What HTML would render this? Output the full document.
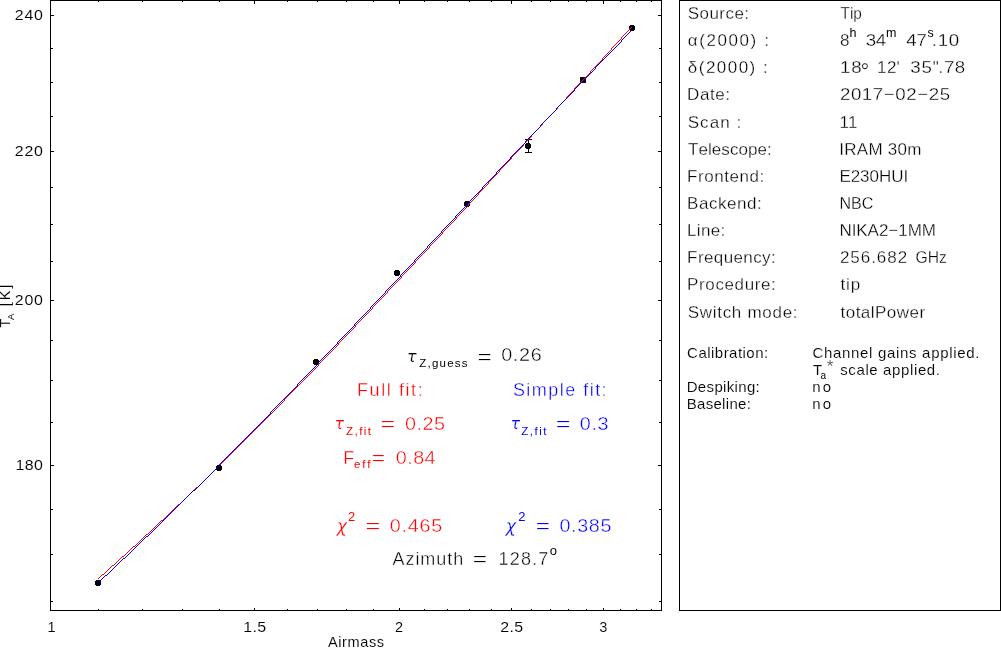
<!DOCTYPE html>
<html><head><meta charset="utf-8"><title>Tip</title>
<style>
html,body{margin:0;padding:0;background:#fff}
body{width:1001px;height:649px;overflow:hidden}
svg{display:block;font-family:"Liberation Sans",sans-serif}
text{white-space:pre;font-kerning:none;stroke:#fff}
</style></head><body>
<svg width="1001" height="649" viewBox="0 0 1001 649">
<rect width="1001" height="649" fill="#fff"/>
<g shape-rendering="crispEdges" stroke="#000" stroke-width="1" fill="none">
<rect x="50.5" y="0.5" width="611" height="610"/>
<rect x="679.5" y="0.5" width="321" height="610"/>
<path d="M51 601.5h2M661 601.5h-2 M51 554.5h2M661 554.5h-2 M51 509.5h2M661 509.5h-2 M51 465.5h3M661 465.5h-3 M51 422.5h2M661 422.5h-2 M51 380.5h2M661 380.5h-2 M51 340.5h2M661 340.5h-2 M51 300.5h3M661 300.5h-3 M51 261.5h2M661 261.5h-2 M51 224.5h2M661 224.5h-2 M51 187.5h2M661 187.5h-2 M51 151.5h3M661 151.5h-3 M51 116.5h2M661 116.5h-2 M51 82.5h2M661 82.5h-2 M51 48.5h2M661 48.5h-2 M51 15.5h3M661 15.5h-3 M98.5 610v-1M98.5 1v1 M142.5 610v-1M142.5 1v1 M182.5 610v-1M182.5 1v1 M219.5 610v-1M219.5 1v1 M254.5 610v-2M254.5 1v3 M287.5 610v-1M287.5 1v1 M317.5 610v-1M317.5 1v1 M346.5 610v-1M346.5 1v1 M373.5 610v-1M373.5 1v1 M399.5 610v-2M399.5 1v3 M424.5 610v-1M424.5 1v1 M447.5 610v-1M447.5 1v1 M469.5 610v-1M469.5 1v1 M491.5 610v-1M491.5 1v1 M511.5 610v-2M511.5 1v3 M531.5 610v-1M531.5 1v1 M550.5 610v-1M550.5 1v1 M568.5 610v-1M568.5 1v1 M586.5 610v-1M586.5 1v1 M603.5 610v-2M603.5 1v3 M620.5 610v-1M620.5 1v1 M636.5 610v-1M636.5 1v1 M651.5 610v-1M651.5 1v1"/>
</g>
<text transform="translate(14.8,19.5) scale(1.100,1)" font-size="14.5" stroke-width="0.09" letter-spacing="0.69">240</text>
<text transform="translate(14.8,155.5) scale(1.100,1)" font-size="14.5" stroke-width="0.09" letter-spacing="0.69">220</text>
<text transform="translate(14.8,304.5) scale(1.100,1)" font-size="14.5" stroke-width="0.09" letter-spacing="0.69">200</text>
<text transform="translate(15.6,469.5) scale(1.100,1)" font-size="14.5" stroke-width="0.09" letter-spacing="0.28">180</text>
<text x="47.5" y="631.5" font-size="14.5" stroke-width="0.09">1</text>
<text transform="translate(243.3,631.5) scale(1.100,1)" font-size="14.5" stroke-width="0.09" letter-spacing="0.32">1.5</text>
<text x="395.1" y="631.5" font-size="14.5" stroke-width="0.09">2</text>
<text transform="translate(500.2,631.5) scale(1.100,1)" font-size="14.5" stroke-width="0.09" letter-spacing="0.36">2.5</text>
<text x="599.2" y="631.5" font-size="14.5" stroke-width="0.09">3</text>
<text x="328.0" y="647.0" font-size="14.5" stroke-width="0.09" letter-spacing="0.61">Airmass</text>
<g transform="translate(9.6,327.5) rotate(-90)">
<text x="0" y="0" font-size="14.5" stroke-width="0.09">T<tspan dx="-1.4" dy="4.4" font-size="9.5" stroke-width="0">A</tspan><tspan dy="-4.4" font-size="14.5" dx="1.6" letter-spacing="1.9"> [K]</tspan></text>
</g>
<g>
<text x="687.7" y="18.9" font-size="17" stroke-width="0.29" letter-spacing="0.46">Source:</text>
<text transform="translate(840.5,18.9) scale(0.906,1)" font-size="17" stroke-width="0.29">Tip</text>
<text x="687.1" y="100.3" font-size="17" stroke-width="0.29" letter-spacing="0.58">Date:</text>
<text transform="translate(839.9,100.3) scale(1.100,1)" font-size="17" stroke-width="0.29" letter-spacing="0.53">2017−02−25</text>
<text x="687.7" y="127.5" font-size="17" stroke-width="0.29" letter-spacing="1.05">Scan :</text>
<text x="839.5" y="127.5" font-size="17" stroke-width="0.29" letter-spacing="-0.98">11</text>
<text x="688.1" y="154.7" font-size="17" stroke-width="0.29" letter-spacing="0.05">Telescope:</text>
<text x="839.2" y="154.7" font-size="17" stroke-width="0.29" letter-spacing="0.29">IRAM 30m</text>
<text x="687.1" y="181.8" font-size="17" stroke-width="0.29" letter-spacing="0.54">Frontend:</text>
<text x="839.4" y="181.8" font-size="17" stroke-width="0.29" letter-spacing="-0.04">E230HUI</text>
<text x="687.1" y="208.9" font-size="17" stroke-width="0.29" letter-spacing="0.55">Backend:</text>
<text transform="translate(839.5,208.9) scale(0.945,1)" font-size="17" stroke-width="0.29">NBC</text>
<text x="687.1" y="236.1" font-size="17" stroke-width="0.29" letter-spacing="0.30">Line:</text>
<text x="839.4" y="236.1" font-size="17" stroke-width="0.29" letter-spacing="-0.04">NIKA2−1MM</text>
<text x="687.1" y="263.2" font-size="17" stroke-width="0.29" letter-spacing="0.40">Frequency:</text>
<text x="839.9" y="263.2" font-size="17" stroke-width="0.29" letter-spacing="0.96">256.682</text>
<text x="687.1" y="290.4" font-size="17" stroke-width="0.29" letter-spacing="0.62">Procedure:</text>
<text x="840.5" y="290.4" font-size="17" stroke-width="0.29" letter-spacing="0.86">tip</text>
<text x="687.7" y="317.6" font-size="17" stroke-width="0.29" letter-spacing="0.71">Switch mode:</text>
<text x="840.5" y="317.6" font-size="17" stroke-width="0.29" letter-spacing="0.48">totalPower</text>
<text transform="translate(915.5,263.2) scale(0.923,1)" font-size="17" stroke-width="0.29">GHz</text>
<text x="687.8" y="46.0" font-size="17" stroke-width="0.29" letter-spacing="1.58">α(2000) :</text>
<text x="687.8" y="73.2" font-size="17" stroke-width="0.29" letter-spacing="1.48">δ(2000) :</text>
<text x="840.1" y="46.0" font-size="17" stroke-width="0.29">8</text>
<text x="849.4" y="36.5" font-size="12.5" stroke-width="0.00">h</text>
<text transform="translate(865.8,46.0) scale(1.100,1)" font-size="17" stroke-width="0.29" letter-spacing="-0.40">34</text>
<text x="885.9" y="36.5" font-size="12.5" stroke-width="0.00">m</text>
<text transform="translate(906.2,46.0) scale(1.100,1)" font-size="17" stroke-width="0.29" letter-spacing="-0.12">47</text>
<text x="927.6" y="36.5" font-size="12.5" stroke-width="0.00">s</text>
<text transform="translate(931.8,46.0) scale(1.100,1)" font-size="17" stroke-width="0.29" letter-spacing="0.66">.10</text>
<text transform="translate(840.1,73.2) scale(1.100,1)" font-size="17" stroke-width="0.29" letter-spacing="0.58">18</text>
<text x="860.6" y="78.8" font-size="22" stroke-width="0.30">°</text>
<text x="877.1" y="73.2" font-size="17" stroke-width="0.29" letter-spacing="0.34">12</text>
<text x="896.6" y="73.2" font-size="17" stroke-width="0.29">'</text>
<text transform="translate(910.3,73.2) scale(1.100,1)" font-size="17" stroke-width="0.29" letter-spacing="0.82">35</text>
<text x="932.8" y="73.2" font-size="17" stroke-width="0.29">"</text>
<text transform="translate(938.3,73.2) scale(1.100,1)" font-size="17" stroke-width="0.29" letter-spacing="0.42">.78</text>
<text x="687.1" y="357.9" font-size="15" stroke-width="0.13" letter-spacing="0.47">Calibration:</text>
<text x="812.4" y="357.9" font-size="15" stroke-width="0.13" letter-spacing="0.69">Channel gains applied.</text>
<text x="812.9" y="374.9" font-size="15" stroke-width="0.13">T</text>
<text x="820.6" y="378.9" font-size="10" stroke-width="0.00">a</text>
<text x="826.7" y="371.6" font-size="17" stroke-width="0.29">*</text>
<text x="840.2" y="374.9" font-size="15" stroke-width="0.13" letter-spacing="0.62">scale applied.</text>
<text x="686.7" y="391.9" font-size="15" stroke-width="0.13" letter-spacing="0.34">Despiking:</text>
<text x="812.2" y="391.9" font-size="15" stroke-width="0.13" letter-spacing="2.24">no</text>
<text x="686.7" y="408.9" font-size="15" stroke-width="0.13" letter-spacing="0.31">Baseline:</text>
<text x="812.2" y="408.9" font-size="15" stroke-width="0.13" letter-spacing="2.24">no</text>
</g>
<text x="407.0" y="362.0" font-size="16" stroke-width="0.21" font-family="DejaVu Sans, sans-serif" font-style="italic">τ</text>
<text x="419.3" y="367.0" font-size="11.5" stroke-width="0.00" letter-spacing="1.21">Z,guess</text>
<text transform="translate(477.5,362.7) scale(1.364,1)" font-size="18" stroke-width="0.38">=</text>
<text transform="translate(501.2,361.4) scale(1.100,1)" font-size="18" stroke-width="0.38" letter-spacing="0.61">0.26</text>
<text x="357.0" y="395.9" font-size="18" fill="#f00" stroke-width="0.38" letter-spacing="1.58">Full fit:</text>
<text x="512.9" y="395.9" font-size="18" fill="#00f" stroke-width="0.38" letter-spacing="1.47">Simple fit:</text>
<text x="334.4" y="429.3" font-size="16" fill="#f00" stroke-width="0.21" font-family="DejaVu Sans, sans-serif" font-style="italic">τ</text>
<text x="346.0" y="434.7" font-size="11.5" fill="#f00" stroke-width="0.00" letter-spacing="1.47">Z,fit</text>
<text transform="translate(380.5,429.9) scale(1.398,1)" font-size="18" fill="#f00" stroke-width="0.38">=</text>
<text transform="translate(404.9,429.9) scale(1.100,1)" font-size="18" fill="#f00" stroke-width="0.38" letter-spacing="0.48">0.25</text>
<text x="510.5" y="429.3" font-size="16" fill="#00f" stroke-width="0.21" font-family="DejaVu Sans, sans-serif" font-style="italic">τ</text>
<text x="521.3" y="434.7" font-size="11.5" fill="#00f" stroke-width="0.00" letter-spacing="1.52">Z,fit</text>
<text transform="translate(555.8,429.9) scale(1.398,1)" font-size="18" fill="#00f" stroke-width="0.38">=</text>
<text transform="translate(579.7,429.9) scale(1.100,1)" font-size="18" fill="#00f" stroke-width="0.38" letter-spacing="0.64">0.3</text>
<text x="343.3" y="463.8" font-size="18" fill="#f00" stroke-width="0.38">F</text>
<text x="354.0" y="468.3" font-size="11.5" fill="#f00" stroke-width="0.00" letter-spacing="1.84">eff</text>
<text transform="translate(371.8,463.8) scale(1.273,1)" font-size="18" fill="#f00" stroke-width="0.38">=</text>
<text transform="translate(395.8,463.8) scale(1.100,1)" font-size="18" fill="#f00" stroke-width="0.38" letter-spacing="0.40">0.84</text>
<text x="336.6" y="532.0" font-size="18" fill="#f00" stroke-width="0.38" font-family="DejaVu Sans, sans-serif" font-style="italic">χ</text>
<text x="348.1" y="520.7" font-size="13" fill="#f00" stroke-width="0.00">2</text>
<text transform="translate(365.6,532.0) scale(1.420,1)" font-size="18" fill="#f00" stroke-width="0.38">=</text>
<text transform="translate(389.7,532.0) scale(1.100,1)" font-size="18" fill="#f00" stroke-width="0.38" letter-spacing="0.69">0.465</text>
<text x="505.6" y="532.0" font-size="18" fill="#00f" stroke-width="0.38" font-family="DejaVu Sans, sans-serif" font-style="italic">χ</text>
<text x="518.3" y="520.7" font-size="13" fill="#00f" stroke-width="0.00">2</text>
<text transform="translate(535.8,532.0) scale(1.364,1)" font-size="18" fill="#00f" stroke-width="0.38">=</text>
<text transform="translate(559.5,532.0) scale(1.100,1)" font-size="18" fill="#00f" stroke-width="0.38" letter-spacing="0.56">0.385</text>
<text x="392.5" y="564.7" font-size="18" stroke-width="0.38" letter-spacing="0.95">Azimuth</text>
<text transform="translate(472.8,564.7) scale(1.364,1)" font-size="18" stroke-width="0.38">=</text>
<text x="498.6" y="564.7" font-size="18" stroke-width="0.38" letter-spacing="1.16">128.7</text>
<text x="549.8" y="554.9" font-size="13" stroke-width="0.00">o</text>
<path fill="#000" shape-rendering="crispEdges" d="M96 580h4v1h1v4h-1v1h-4v-1h-1v-4h1zM217 465h4v1h1v4h-1v1h-4v-1h-1v-4h1zM314 359h4v1h1v4h-1v1h-4v-1h-1v-4h1zM395 270h4v1h1v4h-1v1h-4v-1h-1v-4h1zM465 201h4v1h1v4h-1v1h-4v-1h-1v-4h1zM526 143h4v1h1v4h-1v1h-4v-1h-1v-4h1zM630 25h4v1h1v4h-1v1h-4v-1h-1v-4h1z"/>
<rect x="580" y="77" width="6" height="6" fill="#000" shape-rendering="crispEdges"/>
<path d="M528.5 139v14M525 139.5h7M525 152.5h7" stroke="#000" stroke-width="1" fill="none" shape-rendering="crispEdges"/>
<path fill="none" stroke="#f00" stroke-width="1" shape-rendering="crispEdges" d="M631 27.5h1M630 28.5h1M629 29.5h1M628 30.5h1M627 31.5h1M626 32.5h1M625 33.5h1M624 34.5h1M623 35.5h1M622 36.5h1M621 37.5h1M621 38.5h1M620 39.5h1M619 40.5h1M618 41.5h1M617 42.5h1M616 43.5h1M615 44.5h1M614 45.5h1M613 46.5h1M612 47.5h1M611 48.5h1M611 49.5h1M610 50.5h1M609 51.5h1M608 52.5h1M607 53.5h1M606 54.5h1M605 55.5h1M604 56.5h1M603 57.5h1M602 58.5h1M602 59.5h1M601 60.5h1M600 61.5h1M599 62.5h1M598 63.5h1M597 64.5h1M596 65.5h1M595 66.5h1M594 67.5h1M593 68.5h1M592 69.5h1M591 70.5h1M590 71.5h1M590 72.5h1M589 73.5h1M588 74.5h1M587 75.5h1M586 76.5h1M585 77.5h1M584 78.5h1M583 79.5h1M582 80.5h1M581 81.5h1M580 82.5h1M579 83.5h1M578 84.5h1M577 85.5h1M576 86.5h1M575 87.5h1M574 88.5h1M574 89.5h1M573 90.5h1M572 91.5h1M571 92.5h1M570 93.5h1M569 94.5h1M568 95.5h1M567 96.5h1M566 97.5h1M566 98.5h1M565 99.5h1M564 100.5h1M563 101.5h1M562 102.5h1M561 103.5h1M560 104.5h1M559 105.5h1M558 106.5h1M557 107.5h1M557 108.5h1M556 109.5h1M555 110.5h1M554 111.5h1M553 112.5h1M552 113.5h1M551 114.5h1M550 115.5h1M549 116.5h1M548 117.5h1M547 118.5h1M546 119.5h1M545 120.5h1M544 121.5h1M543 122.5h1M542 123.5h1M542 124.5h1M541 125.5h1M540 126.5h1M539 127.5h1M538 128.5h1M537 129.5h1M536 130.5h1M535 131.5h1M534 132.5h1M533 133.5h1M532 134.5h1M531 135.5h1M531 136.5h1M530 137.5h1M529 138.5h1M528 139.5h1M527 140.5h1M526 141.5h1M525 142.5h1M524 143.5h1M523 144.5h1M523 145.5h1M522 146.5h1M521 147.5h1M520 148.5h1M519 149.5h1M518 150.5h1M517 151.5h1M516 152.5h1M515 153.5h1M514 154.5h1M513 155.5h1M512 156.5h1M511 157.5h1M511 158.5h1M510 159.5h1M509 160.5h1M508 161.5h1M507 162.5h1M506 163.5h1M505 164.5h1M504 165.5h1M503 166.5h1M502 167.5h1M501 168.5h1M500 169.5h1M499 170.5h1M499 171.5h1M498 172.5h1M497 173.5h1M496 174.5h1M495 175.5h1M494 176.5h1M493 177.5h1M492 178.5h1M491 179.5h1M490 180.5h1M489 181.5h1M488 182.5h1M488 183.5h1M487 184.5h1M486 185.5h1M485 186.5h1M484 187.5h1M483 188.5h1M482 189.5h1M481 190.5h1M480 191.5h1M479 192.5h1M478 193.5h1M478 194.5h1M477 195.5h1M476 196.5h1M475 197.5h1M474 198.5h1M473 199.5h1M472 200.5h1M471 201.5h1M470 202.5h1M469 203.5h1M468 204.5h1M468 205.5h1M467 206.5h1M466 207.5h1M465 208.5h1M464 209.5h1M463 210.5h1M462 211.5h1M461 212.5h1M460 213.5h1M459 214.5h1M458 215.5h1M457 216.5h1M456 217.5h1M456 218.5h1M455 219.5h1M454 220.5h1M453 221.5h1M452 222.5h1M451 223.5h1M450 224.5h1M449 225.5h1M448 226.5h1M447 227.5h1M446 228.5h1M445 229.5h1M444 230.5h1M443 231.5h1M442 232.5h1M442 233.5h1M441 234.5h1M440 235.5h1M439 236.5h1M438 237.5h1M437 238.5h1M436 239.5h1M435 240.5h1M434 241.5h1M433 242.5h1M432 243.5h1M431 244.5h1M430 245.5h1M429 246.5h1M429 247.5h1M428 248.5h1M427 249.5h1M426 250.5h1M425 251.5h1M424 252.5h1M423 253.5h1M422 254.5h1M421 255.5h1M420 256.5h1M419 257.5h1M418 258.5h1M417 259.5h1M416 260.5h1M415 261.5h1M415 262.5h1M414 263.5h1M413 264.5h1M412 265.5h1M411 266.5h1M410 267.5h1M409 268.5h1M408 269.5h1M407 270.5h1M406 271.5h1M405 272.5h1M404 273.5h1M403 274.5h1M402 275.5h1M401 276.5h1M401 277.5h1M400 278.5h1M399 279.5h1M398 280.5h1M397 281.5h1M396 282.5h1M395 283.5h1M394 284.5h1M393 285.5h1M392 286.5h1M391 287.5h1M390 288.5h1M389 289.5h1M388 290.5h1M387 291.5h1M387 292.5h1M386 293.5h1M385 294.5h1M384 295.5h1M383 296.5h1M382 297.5h1M381 298.5h1M380 299.5h1M379 300.5h1M378 301.5h1M377 302.5h1M376 303.5h1M375 304.5h1M374 305.5h1M373 306.5h1M372 307.5h1M372 308.5h1M371 309.5h1M370 310.5h1M369 311.5h1M368 312.5h1M367 313.5h1M366 314.5h1M365 315.5h1M364 316.5h1M363 317.5h1M362 318.5h1M361 319.5h1M360 320.5h1M359 321.5h1M358 322.5h1M357 323.5h1M356 324.5h1M355 325.5h1M355 326.5h1M354 327.5h1M353 328.5h1M352 329.5h1M351 330.5h1M350 331.5h1M349 332.5h1M348 333.5h1M347 334.5h1M346 335.5h1M345 336.5h1M344 337.5h1M343 338.5h1M342 339.5h1M341 340.5h1M340 341.5h1M339 342.5h1M338 343.5h1M338 344.5h1M337 345.5h1M336 346.5h1M335 347.5h1M334 348.5h1M333 349.5h1M332 350.5h1M331 351.5h1M330 352.5h1M329 353.5h1M328 354.5h1M327 355.5h1M326 356.5h1M325 357.5h1M324 358.5h1M323 359.5h1M322 360.5h1M321 361.5h1M320 362.5h1M319 363.5h1M318 364.5h1M318 365.5h1M317 366.5h1M316 367.5h1M315 368.5h1M314 369.5h1M313 370.5h1M312 371.5h1M311 372.5h1M310 373.5h1M309 374.5h1M308 375.5h1M307 376.5h1M306 377.5h1M305 378.5h1M304 379.5h1M303 380.5h1M302 381.5h1M301 382.5h1M300 383.5h1M299 384.5h1M298 385.5h1M297 386.5h1M296 387.5h1M295 388.5h1M294 389.5h1M293 390.5h1M292 391.5h1M291 392.5h1M290 393.5h1M289 394.5h1M288 395.5h1M287 396.5h1M286 397.5h1M285 398.5h1M284 399.5h1M284 400.5h1M283 401.5h1M282 402.5h1M281 403.5h1M280 404.5h1M279 405.5h1M278 406.5h1M277 407.5h1M276 408.5h1M275 409.5h1M274 410.5h1M273 411.5h1M272 412.5h1M271 413.5h1M270 414.5h1M269 415.5h1M268 416.5h1M267 417.5h1M266 418.5h1M265 419.5h1M264 420.5h1M263 421.5h1M262 422.5h1M261 423.5h1M260 424.5h1M259 425.5h1M258 426.5h1M257 427.5h1M256 428.5h1M255 429.5h1M254 430.5h1M253 431.5h1M252 432.5h1M251 433.5h1M250 434.5h1M249 435.5h1M248 436.5h1M247 437.5h1M246 438.5h1M245 439.5h1M244 440.5h1M243 441.5h1M242 442.5h1M241 443.5h1M240 444.5h1M239 445.5h1M238 446.5h1M237 447.5h1M236 448.5h1M235 449.5h1M234 450.5h1M233 451.5h1M232 452.5h1M231 453.5h1M230 454.5h1M229 455.5h1M228 456.5h1M227 457.5h1M226 458.5h1M225 459.5h1M224 460.5h1M223 461.5h1M222 462.5h1M221 463.5h1M220 464.5h1M219 465.5h1M218 466.5h1M217 467.5h1M216 468.5h1M215 469.5h1M214 470.5h1M213 471.5h1M212 472.5h1M211 473.5h1M210 474.5h1M209 475.5h1M208 476.5h1M207 477.5h1M206 478.5h1M205 479.5h1M204 480.5h1M203 481.5h1M202 482.5h1M201 483.5h1M200 484.5h1M199 485.5h1M198 486.5h1M196 487.5h2M195 488.5h1M194 489.5h1M193 490.5h1M192 491.5h1M191 492.5h1M190 493.5h1M189 494.5h1M188 495.5h1M187 496.5h1M186 497.5h1M185 498.5h1M184 499.5h1M183 500.5h1M182 501.5h1M181 502.5h1M180 503.5h1M178 504.5h2M177 505.5h1M176 506.5h1M175 507.5h1M174 508.5h1M173 509.5h1M172 510.5h1M171 511.5h1M170 512.5h1M169 513.5h1M168 514.5h1M167 515.5h1M166 516.5h1M165 517.5h1M164 518.5h1M163 519.5h1M161 520.5h2M160 521.5h1M159 522.5h1M158 523.5h1M157 524.5h1M156 525.5h1M155 526.5h1M154 527.5h1M153 528.5h1M152 529.5h1M151 530.5h1M150 531.5h1M149 532.5h1M148 533.5h1M146 534.5h2M145 535.5h1M144 536.5h1M143 537.5h1M142 538.5h1M141 539.5h1M140 540.5h1M139 541.5h1M138 542.5h1M137 543.5h1M136 544.5h1M135 545.5h1M133 546.5h2M132 547.5h1M131 548.5h1M130 549.5h1M129 550.5h1M128 551.5h1M127 552.5h1M126 553.5h1M125 554.5h1M124 555.5h1M122 556.5h2M121 557.5h1M120 558.5h1M119 559.5h1M118 560.5h1M117 561.5h1M116 562.5h1M115 563.5h1M114 564.5h1M112 565.5h2M111 566.5h1M110 567.5h1M109 568.5h1M108 569.5h1M107 570.5h1M106 571.5h1M105 572.5h1M104 573.5h1M102 574.5h2M101 575.5h1M100 576.5h1M99 577.5h1M98 578.5h1"/>
<path fill="none" stroke="#00f" stroke-width="1" shape-rendering="crispEdges" d="M631 30.5h1M630 31.5h1M629 32.5h1M628 33.5h1M627 34.5h1M626 35.5h1M625 36.5h1M624 37.5h1M623 38.5h1M622 39.5h1M621 40.5h1M621 41.5h1M620 42.5h1M619 43.5h1M618 44.5h1M617 45.5h1M616 46.5h1M615 47.5h1M614 48.5h1M613 49.5h1M612 50.5h1M611 51.5h1M610 52.5h1M609 53.5h1M608 54.5h1M607 55.5h1M606 56.5h1M605 57.5h1M604 58.5h1M603 59.5h1M602 60.5h1M601 61.5h1M600 62.5h1M599 63.5h1M598 64.5h1M597 65.5h1M596 66.5h1M595 67.5h1M595 68.5h1M594 69.5h1M593 70.5h1M592 71.5h1M591 72.5h1M590 73.5h1M589 74.5h1M588 75.5h1M587 76.5h1M586 77.5h1M585 78.5h1M584 79.5h1M583 80.5h1M582 81.5h1M581 82.5h1M580 83.5h1M579 84.5h1M578 85.5h1M577 86.5h1M576 87.5h1M575 88.5h1M574 89.5h1M574 90.5h1M573 91.5h1M572 92.5h1M571 93.5h1M570 94.5h1M569 95.5h1M568 96.5h1M567 97.5h1M566 98.5h1M565 99.5h1M564 100.5h1M563 101.5h1M562 102.5h1M561 103.5h1M560 104.5h1M559 105.5h1M558 106.5h1M557 107.5h1M556 108.5h1M556 109.5h1M555 110.5h1M554 111.5h1M553 112.5h1M552 113.5h1M551 114.5h1M550 115.5h1M549 116.5h1M548 117.5h1M547 118.5h1M546 119.5h1M545 120.5h1M544 121.5h1M543 122.5h1M542 123.5h1M541 124.5h1M540 125.5h1M540 126.5h1M539 127.5h1M538 128.5h1M537 129.5h1M536 130.5h1M535 131.5h1M534 132.5h1M533 133.5h1M532 134.5h1M531 135.5h1M530 136.5h1M529 137.5h1M528 138.5h1M527 139.5h1M526 140.5h1M525 141.5h1M525 142.5h1M524 143.5h1M523 144.5h1M522 145.5h1M521 146.5h1M520 147.5h1M519 148.5h1M518 149.5h1M517 150.5h1M516 151.5h1M515 152.5h1M514 153.5h1M513 154.5h1M512 155.5h1M511 156.5h1M510 157.5h1M510 158.5h1M509 159.5h1M508 160.5h1M507 161.5h1M506 162.5h1M505 163.5h1M504 164.5h1M503 165.5h1M502 166.5h1M501 167.5h1M500 168.5h1M499 169.5h1M498 170.5h1M497 171.5h1M496 172.5h1M496 173.5h1M495 174.5h1M494 175.5h1M493 176.5h1M492 177.5h1M491 178.5h1M490 179.5h1M489 180.5h1M488 181.5h1M487 182.5h1M486 183.5h1M485 184.5h1M484 185.5h1M483 186.5h1M482 187.5h1M482 188.5h1M481 189.5h1M480 190.5h1M479 191.5h1M478 192.5h1M477 193.5h1M476 194.5h1M475 195.5h1M474 196.5h1M473 197.5h1M472 198.5h1M471 199.5h1M470 200.5h1M469 201.5h1M468 202.5h1M468 203.5h1M467 204.5h1M466 205.5h1M465 206.5h1M464 207.5h1M463 208.5h1M462 209.5h1M461 210.5h1M460 211.5h1M459 212.5h1M458 213.5h1M457 214.5h1M456 215.5h1M455 216.5h1M455 217.5h1M454 218.5h1M453 219.5h1M452 220.5h1M451 221.5h1M450 222.5h1M449 223.5h1M448 224.5h1M447 225.5h1M446 226.5h1M445 227.5h1M444 228.5h1M443 229.5h1M442 230.5h1M441 231.5h1M441 232.5h1M440 233.5h1M439 234.5h1M438 235.5h1M437 236.5h1M436 237.5h1M435 238.5h1M434 239.5h1M433 240.5h1M432 241.5h1M431 242.5h1M430 243.5h1M429 244.5h1M428 245.5h1M427 246.5h1M427 247.5h1M426 248.5h1M425 249.5h1M424 250.5h1M423 251.5h1M422 252.5h1M421 253.5h1M420 254.5h1M419 255.5h1M418 256.5h1M417 257.5h1M416 258.5h1M415 259.5h1M414 260.5h1M414 261.5h1M413 262.5h1M412 263.5h1M411 264.5h1M410 265.5h1M409 266.5h1M408 267.5h1M407 268.5h1M406 269.5h1M405 270.5h1M404 271.5h1M403 272.5h1M402 273.5h1M401 274.5h1M400 275.5h1M400 276.5h1M399 277.5h1M398 278.5h1M397 279.5h1M396 280.5h1M395 281.5h1M394 282.5h1M393 283.5h1M392 284.5h1M391 285.5h1M390 286.5h1M389 287.5h1M388 288.5h1M387 289.5h1M386 290.5h1M385 291.5h1M385 292.5h1M384 293.5h1M383 294.5h1M382 295.5h1M381 296.5h1M380 297.5h1M379 298.5h1M378 299.5h1M377 300.5h1M376 301.5h1M375 302.5h1M374 303.5h1M373 304.5h1M372 305.5h1M371 306.5h1M370 307.5h1M370 308.5h1M369 309.5h1M368 310.5h1M367 311.5h1M366 312.5h1M365 313.5h1M364 314.5h1M363 315.5h1M362 316.5h1M361 317.5h1M360 318.5h1M359 319.5h1M358 320.5h1M357 321.5h1M356 322.5h1M355 323.5h1M354 324.5h1M354 325.5h1M353 326.5h1M352 327.5h1M351 328.5h1M350 329.5h1M349 330.5h1M348 331.5h1M347 332.5h1M346 333.5h1M345 334.5h1M344 335.5h1M343 336.5h1M342 337.5h1M341 338.5h1M340 339.5h1M339 340.5h1M338 341.5h1M337 342.5h1M337 343.5h1M336 344.5h1M335 345.5h1M334 346.5h1M333 347.5h1M332 348.5h1M331 349.5h1M330 350.5h1M329 351.5h1M328 352.5h1M327 353.5h1M326 354.5h1M325 355.5h1M324 356.5h1M323 357.5h1M322 358.5h1M321 359.5h1M320 360.5h1M319 361.5h1M318 362.5h1M318 363.5h1M317 364.5h1M316 365.5h1M315 366.5h1M314 367.5h1M313 368.5h1M312 369.5h1M311 370.5h1M310 371.5h1M309 372.5h1M308 373.5h1M307 374.5h1M306 375.5h1M305 376.5h1M304 377.5h1M303 378.5h1M302 379.5h1M301 380.5h1M300 381.5h1M299 382.5h1M298 383.5h1M297 384.5h1M297 385.5h1M296 386.5h1M295 387.5h1M294 388.5h1M293 389.5h1M292 390.5h1M291 391.5h1M290 392.5h1M289 393.5h1M288 394.5h1M287 395.5h1M286 396.5h1M285 397.5h1M284 398.5h1M283 399.5h1M282 400.5h1M281 401.5h1M280 402.5h1M279 403.5h1M278 404.5h1M277 405.5h1M276 406.5h1M275 407.5h1M274 408.5h1M273 409.5h1M272 410.5h1M271 411.5h1M270 412.5h1M270 413.5h1M269 414.5h1M268 415.5h1M267 416.5h1M266 417.5h1M265 418.5h1M264 419.5h1M263 420.5h1M262 421.5h1M261 422.5h1M260 423.5h1M259 424.5h1M258 425.5h1M257 426.5h1M256 427.5h1M255 428.5h1M254 429.5h1M253 430.5h1M252 431.5h1M251 432.5h1M250 433.5h1M249 434.5h1M248 435.5h1M247 436.5h1M246 437.5h1M245 438.5h1M244 439.5h1M243 440.5h1M242 441.5h1M241 442.5h1M240 443.5h1M239 444.5h1M238 445.5h1M237 446.5h1M236 447.5h1M235 448.5h1M234 449.5h1M233 450.5h1M232 451.5h1M231 452.5h1M230 453.5h1M229 454.5h1M228 455.5h1M227 456.5h1M226 457.5h1M225 458.5h1M224 459.5h1M223 460.5h1M222 461.5h1M221 462.5h1M220 463.5h1M219 464.5h1M219 465.5h1M218 466.5h1M217 467.5h1M216 468.5h1M215 469.5h1M214 470.5h1M213 471.5h1M212 472.5h1M211 473.5h1M210 474.5h1M209 475.5h1M208 476.5h1M207 477.5h1M206 478.5h1M205 479.5h1M204 480.5h1M203 481.5h1M202 482.5h1M201 483.5h1M200 484.5h1M199 485.5h1M198 486.5h1M197 487.5h1M196 488.5h1M195 489.5h1M193 490.5h2M192 491.5h1M191 492.5h1M190 493.5h1M189 494.5h1M188 495.5h1M187 496.5h1M186 497.5h1M185 498.5h1M184 499.5h1M183 500.5h1M182 501.5h1M181 502.5h1M180 503.5h1M179 504.5h1M178 505.5h1M177 506.5h1M176 507.5h1M175 508.5h1M174 509.5h1M173 510.5h1M172 511.5h1M171 512.5h1M170 513.5h1M169 514.5h1M168 515.5h1M167 516.5h1M166 517.5h1M165 518.5h1M164 519.5h1M163 520.5h1M162 521.5h1M161 522.5h1M160 523.5h1M159 524.5h1M158 525.5h1M157 526.5h1M156 527.5h1M155 528.5h1M154 529.5h1M153 530.5h1M152 531.5h1M151 532.5h1M150 533.5h1M149 534.5h1M148 535.5h1M146 536.5h2M145 537.5h1M144 538.5h1M143 539.5h1M142 540.5h1M141 541.5h1M140 542.5h1M139 543.5h1M138 544.5h1M137 545.5h1M136 546.5h1M135 547.5h1M134 548.5h1M133 549.5h1M132 550.5h1M131 551.5h1M130 552.5h1M129 553.5h1M128 554.5h1M127 555.5h1M126 556.5h1M125 557.5h1M123 558.5h2M122 559.5h1M121 560.5h1M120 561.5h1M119 562.5h1M118 563.5h1M117 564.5h1M116 565.5h1M115 566.5h1M114 567.5h1M113 568.5h1M112 569.5h1M111 570.5h1M110 571.5h1M109 572.5h1M108 573.5h1M107 574.5h1M105 575.5h2M104 576.5h1M103 577.5h1M102 578.5h1M101 579.5h1M100 580.5h1M99 581.5h1M98 582.5h1"/>
</svg>
</body></html>
